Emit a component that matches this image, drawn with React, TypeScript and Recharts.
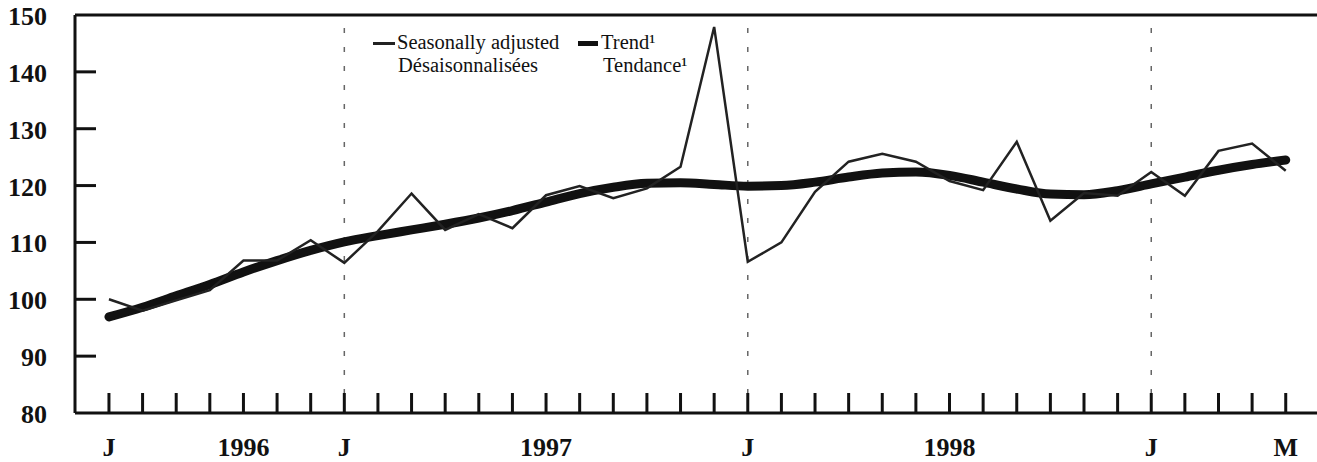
import { Legend, Line, LineChart, ReferenceLine, XAxis, YAxis } from "recharts";

// Monthly index, June 1996 .. May 1999 (36 months)
const seasonal = [
  100, 98, 99.8, 101.6, 106.8, 106.8, 110.4, 106.4, 112, 118.6, 112.2, 115, 112.5, 118.3, 119.9, 117.8, 119.5,
  123.3, 147.9, 106.6, 110, 118.9, 124.2, 125.6, 124.2, 120.8, 119.2, 127.7, 113.8, 118.7, 118.2, 122.4, 118.2,
  126.1, 127.4, 122.6,
];
const trend = [
  96.9, 98.6, 100.6, 102.6, 104.8, 106.8, 108.6, 110.1, 111.2, 112.2, 113.2, 114.3, 115.6, 117.1, 118.6, 119.7,
  120.4, 120.5, 120.2, 119.9, 120, 120.6, 121.5, 122.2, 122.4, 121.8, 120.6, 119.4, 118.5, 118.4, 119.1, 120.3,
  121.5, 122.7, 123.7, 124.5,
];
const tickLabels: Record<number, string> = { 0: "J", 4: "1996", 7: "J", 13: "1997", 19: "J", 25: "1998", 31: "J", 35: "M" };
const januaries = [7, 19, 31];
const yTicks = [80, 90, 100, 110, 120, 130, 140, 150];
const innerTicks = [90, 100, 110, 120, 130, 140];

const data = seasonal.map((v, i) => ({ i, seasonal: v, trend: trend[i] }));
const monthTicks = seasonal.map((_, i) => i);

const serif = "'Liberation Serif', 'Times New Roman', serif";
const ink = "#111";
const tickText = { fontFamily: serif, fontWeight: "bold" as const, fontSize: 26 };

function XTick({ x, y, payload }: any) {
  const label = tickLabels[payload.value] ?? "";
  return (
    <g>
      <line x1={x} x2={x} y1={y} y2={y - 20} stroke={ink} strokeWidth={3} />
      <text x={x} y={y + 43} textAnchor="middle" style={tickText} fill={ink}>
        {label}
      </text>
    </g>
  );
}

function LeftTick({ x, y, payload }: any) {
  const v = payload.value;
  return (
    <g>
      {innerTicks.includes(v) && <line x1={x} x2={x + 21} y1={y} y2={y} stroke={ink} strokeWidth={3} />}
      <text x={x - 28} y={y + 10} textAnchor="end" style={tickText} fill={ink}>
        {v}
      </text>
    </g>
  );
}

function RightTick({ x, y, payload }: any) {
  if (!innerTicks.includes(payload.value)) return <g />;
  return <line x1={x - 18} x2={x} y1={y} y2={y} stroke={ink} strokeWidth={3} />;
}

// two-line bilingual legend, placed inside the plot near the top
function LegendBox() {
  const txt = { position: "absolute" as const, fontFamily: serif, fontSize: 20.5, lineHeight: "20px", color: ink, whiteSpace: "nowrap" as const };
  return (
    <div style={{ position: "relative", width: 0, height: 0 }}>
      <div style={{ position: "absolute", left: 373, top: 42, width: 22, height: 2.5, background: "#222" }} />
      <div style={{ ...txt, left: 397, top: 32 }}>Seasonally adjusted</div>
      <div style={{ ...txt, left: 398, top: 55 }}>Désaisonnalisées</div>
      <div style={{ position: "absolute", left: 578, top: 41, width: 20, height: 5, background: ink }} />
      <div style={{ ...txt, left: 601, top: 32 }}>Trend¹</div>
      <div style={{ ...txt, left: 603, top: 55 }}>Tendance¹</div>
    </div>
  );
}

export default function App() {
  return (
    <div style={{ position: "absolute", left: 0, top: 0, background: "#fff" }}>
      <LineChart width={1317} height={462} data={data} margin={{ top: 15, right: 0, bottom: 0, left: 0 }}>
        <XAxis
          dataKey="i"
          type="number"
          domain={[-1.01, 35.93]}
          ticks={monthTicks}
          interval={0}
          height={49}
          tickSize={0}
          tickMargin={0}
          tickLine={false}
          axisLine={{ stroke: ink, strokeWidth: 3 }}
          tick={<XTick />}
        />
        <YAxis
          yAxisId="left"
          type="number"
          domain={[80, 150]}
          ticks={yTicks}
          interval={0}
          width={75}
          tickSize={0}
          tickMargin={0}
          tickLine={false}
          axisLine={{ stroke: ink, strokeWidth: 3 }}
          tick={<LeftTick />}
        />
        <YAxis
          yAxisId="right"
          orientation="right"
          type="number"
          domain={[80, 150]}
          ticks={yTicks}
          interval={0}
          width={0}
          tickSize={0}
          tickMargin={0}
          tickLine={false}
          axisLine={false}
          tick={<RightTick />}
        />
        <ReferenceLine yAxisId="left" y={150} stroke={ink} strokeWidth={3} />
        {januaries.map((j) => (
          <ReferenceLine key={j} yAxisId="left" x={j} stroke="#666" strokeWidth={1.5} strokeDasharray="5 14" />
        ))}
        <Legend
          layout="vertical"
          align="center"
          verticalAlign="middle"
          wrapperStyle={{ position: "absolute", top: 0, left: 0, width: 0, height: 0 }}
          content={() => <LegendBox />}
        />
        <Line
          yAxisId="right"
          dataKey="trend"
          type="monotone"
          stroke={ink}
          strokeWidth={9}
          strokeLinecap="round"
          dot={false}
          isAnimationActive={false}
        />
        <Line
          yAxisId="left"
          dataKey="seasonal"
          type="linear"
          stroke="#222"
          strokeWidth={2.5}
          dot={false}
          isAnimationActive={false}
        />
      </LineChart>
    </div>
  );
}
